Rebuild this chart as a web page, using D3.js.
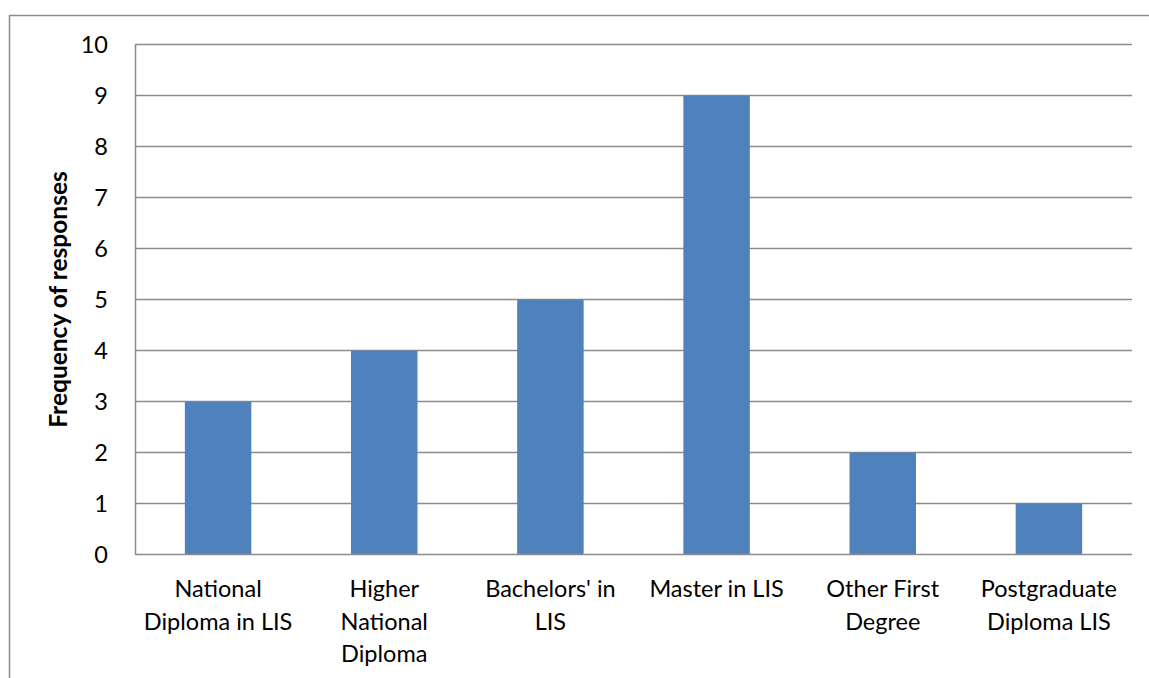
<!DOCTYPE html>
<html>
<head>
<meta charset="utf-8">
<script src="https://cdn.jsdelivr.net/npm/d3@7"></script>
<style>
  html, body { margin: 0; padding: 0; background: #fff; }
  svg { display: block; }
  text { font-family: Lato, "Open Sans", sans-serif; fill: #000; }
</style>
</head>
<body>
<svg id="chart" width="1149" height="678"></svg>
<script>
// Qualification categories (each entry is a list of label lines)
const categories = [
  ["National", "Diploma in LIS"],
  ["Higher", "National", "Diploma"],
  ["Bachelors' in", "LIS"],
  ["Master in LIS"],
  ["Other First", "Degree"],
  ["Postgraduate", "Diploma LIS"]
];
const frequencies = [3, 4, 5, 9, 2, 1];
const yTicks = [0, 1, 2, 3, 4, 5, 6, 7, 8, 9, 10];
const yTitle = "Frequency of responses";

const svg = d3.select("#chart");
const width = 1149, height = 678;
const margin = { left: 135, right: 17, top: 44.5, bottom: 123.5 };
const gridColor = "#8c8c8c";
const barColor = "#4f81bd";

// outer chart frame
svg.append("rect")
  .attr("x", 9.5).attr("y", 15.5)
  .attr("width", width + 20).attr("height", height + 20)
  .attr("fill", "none").attr("stroke", gridColor).attr("stroke-width", 1.5);

const x = d3.scaleBand()
  .domain(d3.range(categories.length))
  .range([margin.left, width - margin.right])
  .paddingInner(0.6).paddingOuter(0.3);

const y = d3.scaleLinear()
  .domain([0, 10])
  .range([height - margin.bottom, margin.top]);

// horizontal gridlines
svg.append("g")
  .selectAll("line")
  .data(yTicks.filter(d => d > 0))
  .join("line")
  .attr("x1", margin.left).attr("x2", width - margin.right)
  .attr("y1", d => y(d)).attr("y2", d => y(d))
  .attr("stroke", gridColor).attr("stroke-width", 1.5);

// bars
svg.append("g")
  .selectAll("rect")
  .data(frequencies)
  .join("rect")
  .attr("x", (d, i) => x(i))
  .attr("width", x.bandwidth())
  .attr("y", d => y(d))
  .attr("height", d => y(0) - y(d))
  .attr("fill", barColor);

// y axis
const yAxis = svg.append("g")
  .attr("transform", `translate(${margin.left},0)`)
  .call(d3.axisLeft(y).tickValues(yTicks).tickSize(0).tickPadding(27).tickFormat(d3.format("d")));
yAxis.select(".domain").attr("stroke", gridColor).attr("stroke-width", 1.5);
yAxis.selectAll("text").attr("font-size", 23.5).attr("font-family", "Lato, sans-serif").attr("dy", "0.35em");

// x axis baseline
svg.append("line")
  .attr("x1", margin.left).attr("x2", width - margin.right)
  .attr("y1", y(0)).attr("y2", y(0))
  .attr("stroke", gridColor).attr("stroke-width", 1.5);

// category labels
const labels = svg.append("g")
  .selectAll("text")
  .data(categories)
  .join("text")
  .attr("text-anchor", "middle")
  .attr("font-size", 23.5)
  .attr("x", (d, i) => x(i) + x.bandwidth() / 2)
  .attr("y", 597);
labels.selectAll("tspan")
  .data(d => d)
  .join("tspan")
  .attr("x", function () { return this.parentNode.getAttribute("x"); })
  .attr("dy", (d, i) => i === 0 ? 0 : 32.5)
  .text(d => d);

// y axis title
svg.append("text")
  .attr("transform", `translate(67,${(y(0) + y(10)) / 2}) rotate(-90)`)
  .attr("text-anchor", "middle")
  .attr("font-size", 24.5)
  .attr("font-weight", "bold")
  .text(yTitle);
</script>
</body>
</html>
